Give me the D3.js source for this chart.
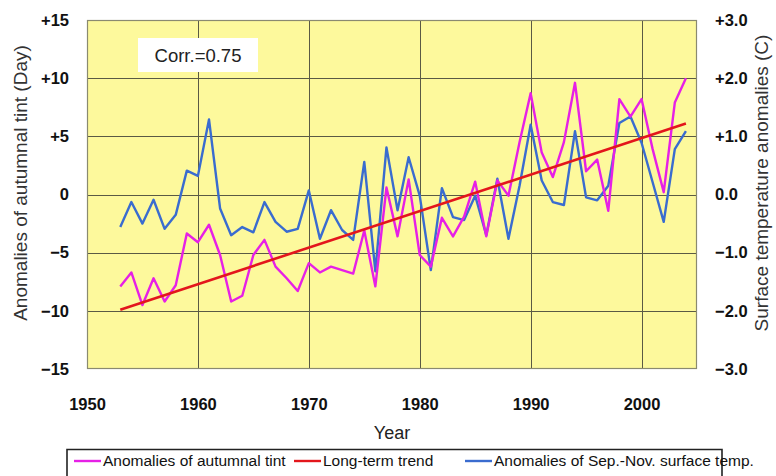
<!DOCTYPE html>
<html>
<head>
<meta charset="utf-8">
<script src="https://cdn.jsdelivr.net/npm/d3@7"></script>
<style>
  body { margin: 0; background: #fff; }
  svg { display: block; font-family: "Liberation Sans", Arial, sans-serif; }
</style>
</head>
<body>
<svg id="chart" width="776" height="476"></svg>
<script>
const years = [1953,1954,1955,1956,1957,1958,1959,1960,1961,1962,1963,1964,1965,1966,1967,1968,1969,1970,
  1971,1972,1973,1974,1975,1976,1977,1978,1979,1980,1981,1982,1983,1984,1985,1986,1987,1988,1989,1990,
  1991,1992,1993,1994,1995,1996,1997,1998,1999,2000,2001,2002,2003,2004];
const tintAnomaly = [-7.9,-6.7,-9.5,-7.2,-9.2,-7.8,-3.35,-4.1,-2.6,-5.2,-9.2,-8.7,-5.2,-3.9,-6.2,-7.2,-8.3,-5.9,
  -6.7,-6.2,-6.5,-6.8,-3.1,-7.9,0.6,-3.6,1.3,-5.2,-6.2,-2.0,-3.6,-1.9,1.1,-3.6,1.2,-0.1,4.5,8.7,
  3.6,1.5,4.5,9.6,2.0,3.0,-1.4,8.2,6.7,8.2,3.9,0.2,7.9,10.0];
const tempAnomaly = [-0.56,-0.13,-0.5,-0.09,-0.59,-0.35,0.41,0.32,1.29,-0.24,-0.7,-0.56,-0.65,-0.13,-0.47,-0.64,-0.59,0.07,
  -0.76,-0.27,-0.61,-0.78,0.56,-1.32,0.81,-0.27,0.64,-0.02,-1.3,0.11,-0.39,-0.44,-0.02,-0.70,0.27,-0.76,0.15,1.2,
  0.24,-0.13,-0.18,1.09,-0.05,-0.10,0.15,1.23,1.34,0.89,0.21,-0.47,0.78,1.09];
const trendYears = [1953, 2004];
const trendValues = [-9.9, 6.1];
const xTicks = [1950,1960,1970,1980,1990,2000];
const leftTicks = [-15,-10,-5,0,5,10,15];
const rightTicks = [-3,-2,-1,0,1,2,3];
const corrLabel = "Corr.=0.75";
const legendItems = [
  {label: "Anomalies of autumnal tint", color: "#e620e6"},
  {label: "Long-term trend", color: "#e3161c"},
  {label: "Anomalies of Sep.-Nov. surface temp.", color: "#3a6ccf"}
];

const svg = d3.select("#chart");
const L = 87, R = 697, T = 20, B = 369;
const x = d3.scaleLinear().domain([1950, 2005]).range([L, R]);
const yL = d3.scaleLinear().domain([-15, 15]).range([B, T]);
const yR = d3.scaleLinear().domain([-3, 3]).range([B, T]);

// background
svg.append("rect").attr("x", L).attr("y", T).attr("width", R - L).attr("height", B - T)
  .attr("fill", "#fdf99c");

// grid
const grid = svg.append("g").attr("stroke", "#5a5a44").attr("stroke-width", 1);
leftTicks.filter(d => d > -15 && d < 15).forEach(d => {
  grid.append("line").attr("x1", L).attr("x2", R).attr("y1", Math.round(yL(d)) + 0.5).attr("y2", Math.round(yL(d)) + 0.5);
});
xTicks.filter(d => d > 1950).forEach(d => {
  grid.append("line").attr("y1", T).attr("y2", B).attr("x1", Math.round(x(d)) + 0.5).attr("x2", Math.round(x(d)) + 0.5);
});
// frame
svg.append("rect").attr("x", L + 0.5).attr("y", T + 0.5).attr("width", R - L - 1).attr("height", B - T - 1)
  .attr("fill", "none").attr("stroke", "#8a8a70").attr("stroke-width", 1.2);

// corr box
svg.append("rect").attr("x", 138).attr("y", 38).attr("width", 120).attr("height", 34).attr("fill", "#fff");
svg.append("text").attr("x", 198).attr("y", 62).attr("text-anchor", "middle")
  .attr("font-size", 18.5).attr("fill", "#222").text(corrLabel);

// lines
const lineL = d3.line().x((d, i) => x(years[i])).y(d => yL(d));
const lineR = d3.line().x((d, i) => x(years[i])).y(d => yR(d));
svg.append("path").datum(tempAnomaly).attr("d", lineR).attr("fill", "none")
  .attr("stroke", legendItems[2].color).attr("stroke-width", 2.4).attr("stroke-linejoin", "round");
svg.append("path").datum(tintAnomaly).attr("d", lineL).attr("fill", "none")
  .attr("stroke", legendItems[0].color).attr("stroke-width", 2.4).attr("stroke-linejoin", "round");
svg.append("path").datum(trendValues).attr("d", d3.line().x((d, i) => x(trendYears[i])).y(d => yL(d)))
  .attr("fill", "none").attr("stroke", legendItems[1].color).attr("stroke-width", 2.6);

// axes
const fmtL = d => d > 0 ? "+" + d : d < 0 ? "\u2212" + Math.abs(d) : "0";
const fmtR = d => d > 0 ? "+" + d.toFixed(1) : d < 0 ? "\u2212" + Math.abs(d).toFixed(1) : "0.0";
const axL = svg.append("g").attr("transform", `translate(${L},0)`)
  .call(d3.axisLeft(yL).tickValues(leftTicks).tickFormat(fmtL).tickSize(0).tickPadding(18));
const axR = svg.append("g").attr("transform", `translate(${R},0)`)
  .call(d3.axisRight(yR).tickValues(rightTicks).tickFormat(fmtR).tickSize(0).tickPadding(18));
const axB = svg.append("g").attr("transform", `translate(0,${B})`)
  .call(d3.axisBottom(x).tickValues(xTicks).tickFormat(d3.format("d")).tickSize(0).tickPadding(29));
[axL, axR, axB].forEach(a => {
  a.select(".domain").remove();
  a.selectAll("text").attr("font-size", 16.5).attr("font-weight", "bold").attr("fill", "#111")
    .attr("font-family", "Liberation Sans, Arial, sans-serif");
});

// axis titles
svg.append("text").attr("transform", "translate(27,183) rotate(-90)").attr("text-anchor", "middle")
  .attr("font-size", 19).attr("fill", "#333").text("Anomalies of autumnal tint (Day)");
svg.append("text").attr("transform", "translate(768,183) rotate(-90)").attr("text-anchor", "middle")
  .attr("font-size", 19).attr("fill", "#333").text("Surface temperature anomalies (C)");
svg.append("text").attr("x", (L + R) / 2).attr("y", 439).attr("text-anchor", "middle")
  .attr("font-size", 18).attr("fill", "#222").text("Year");

// legend
const lg = svg.append("g");
lg.append("path").attr("d", "M67,476 V449.5 H722 V476").attr("fill", "none").attr("stroke", "#222").attr("stroke-width", 1.6);
const legendX = [74, 294, 465];
legendItems.forEach((it, i) => {
  const g = lg.append("g").attr("transform", `translate(${legendX[i]},466)`);
  g.append("line").attr("x1", 0).attr("x2", 27).attr("y1", -5).attr("y2", -5).attr("stroke", it.color).attr("stroke-width", 2.4);
  g.append("text").attr("x", 29).attr("y", 0).attr("font-size", 15.5).attr("fill", "#111").text(it.label);
});
</script>
</body>
</html>
